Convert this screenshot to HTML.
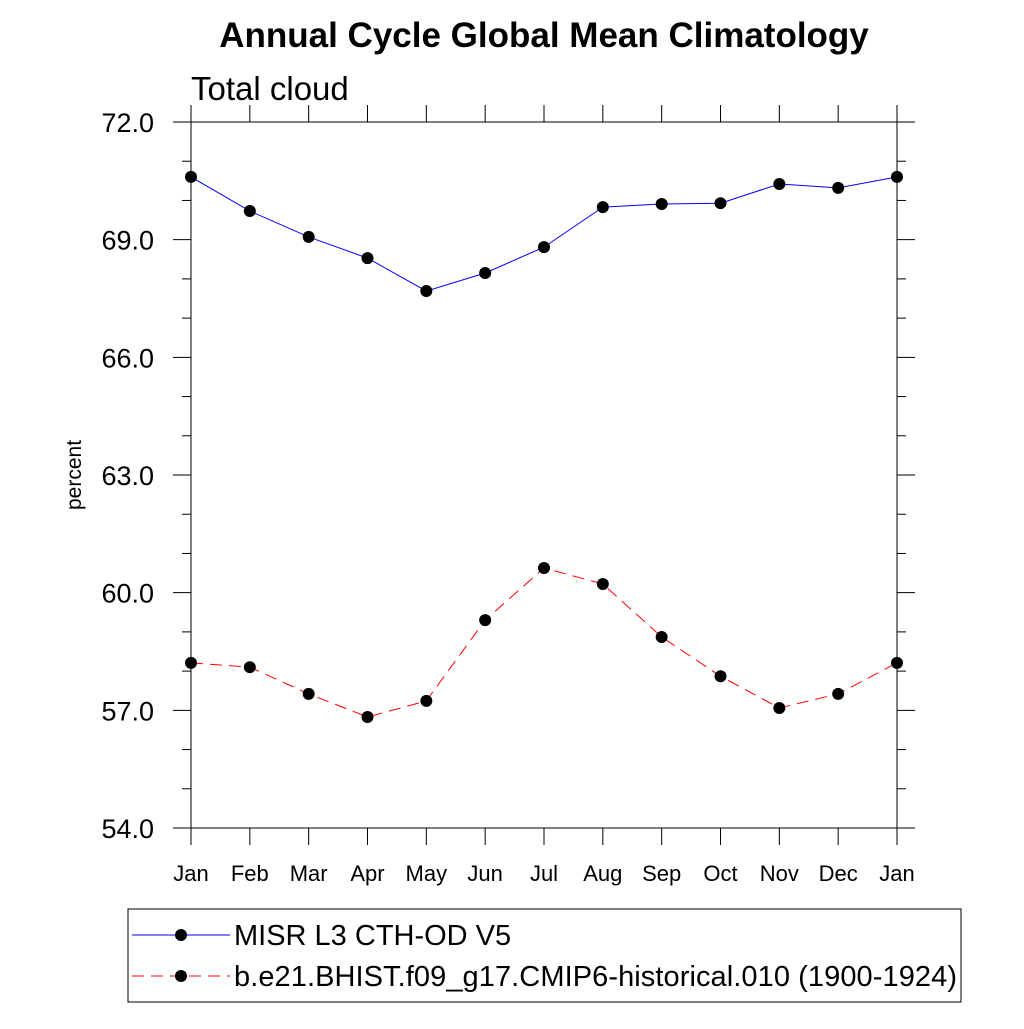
<!DOCTYPE html>
<html><head><meta charset="utf-8"><style>
body{margin:0;background:#fff;font-family:"Liberation Sans",sans-serif}
</style></head><body>
<svg id="c" width="1024" height="1024" xmlns="http://www.w3.org/2000/svg" font-family="Liberation Sans, sans-serif">
<text x="544" y="47" text-anchor="middle" font-size="35" font-weight="bold">Annual Cycle Global Mean Climatology</text>
<text x="191" y="100" font-size="33">Total cloud</text>
<text transform="translate(81,475) rotate(-90)" text-anchor="middle" font-size="21">percent</text>
<g id="axes"></g>
<g id="series"></g>
<rect x="128" y="909" width="833" height="93" fill="none" stroke="#000" stroke-width="1"/>
<line x1="132" y1="935" x2="230" y2="935" stroke="#0000ff" stroke-width="1"/>
<circle cx="181" cy="935" r="6" fill="#000"/>
<text x="234" y="945" font-size="29">MISR L3 CTH-OD V5</text>
<line x1="132" y1="976" x2="230" y2="976" stroke="#ff0000" stroke-width="1" stroke-dasharray="12,7"/>
<circle cx="181" cy="976" r="6" fill="#000"/>
<text x="234" y="986" font-size="29" textLength="723">b.e21.BHIST.f09_g17.CMIP6-historical.010 (1900-1924)</text>
</svg>
<script>
const months=["Jan","Feb","Mar","Apr","May","Jun","Jul","Aug","Sep","Oct","Nov","Dec","Jan"];
const misr=[70.6,69.73,69.07,68.53,67.69,68.15,68.81,69.83,69.91,69.93,70.42,70.32,70.6];
const model=[58.21,58.10,57.42,56.83,57.24,59.30,60.63,60.22,58.87,57.87,57.06,57.42,58.21];
const yTicks=["54.0","57.0","60.0","63.0","66.0","69.0","72.0"];
const L=191,R=897,T=122,B=828,ymin=54,ymax=72;
const xs=i=>L+(R-L)*i/12;
const ys=v=>B-(v-ymin)/(ymax-ymin)*(B-T);
const NS="http://www.w3.org/2000/svg";
const ax=document.getElementById('axes'),sg=document.getElementById('series');
function mk(t,a,p){const e=document.createElementNS(NS,t);for(const k in a)e.setAttribute(k,a[k]);p.appendChild(e);return e;}
const st="#000";
let e;
e=mk('line',{x1:173,y1:T,x2:914,y2:T,stroke:st},ax);


e=mk('line',{x1:173,y1:B,x2:914,y2:B,stroke:st},ax);


e=mk('line',{x1:L,y1:105,x2:L,y2:845,stroke:st},ax);


e=mk('line',{x1:R,y1:105,x2:R,y2:845,stroke:st},ax);


for(let v=ymin;v<=ymax;v++){const y=ys(v);const major=(v-ymin)%3===0;const len=major?18:9;
 e=mk('line',{x1:L-len,y1:y,x2:L,y2:y,stroke:st},ax);
 
 
 e=mk('line',{x1:R,y1:y,x2:R+len,y2:y,stroke:st},ax);
 
 
}
yTicks.forEach(s=>{const t=mk('text',{x:154,y:ys(+s)+10,'text-anchor':'end','font-size':27},ax);t.textContent=s;
 
 });
months.forEach((m,i)=>{const x=xs(i);
 e=mk('line',{x1:x,y1:B,x2:x,y2:B+17,stroke:st},ax);
 
 
 e=mk('line',{x1:x,y1:T-17,x2:x,y2:T,stroke:st},ax);
 
 
 const t=mk('text',{x:x,y:881,'text-anchor':'middle','font-size':22},ax);t.textContent=m;
 
 });
function series(d,color,dash,name){
 const p=mk('polyline',{points:d.map((v,i)=>xs(i)+','+ys(v)).join(' '),fill:'none',stroke:color,'stroke-width':1,'stroke-dasharray':dash},sg);
 
 
 d.forEach((v,i)=>{const c=mk('circle',{cx:xs(i),cy:ys(v),r:6,fill:'#000'},sg);
  
  });
}
series(misr,'#0000ff','none','misr');
series(model,'#ff0000','12,7','model');
</script>
</body></html>
